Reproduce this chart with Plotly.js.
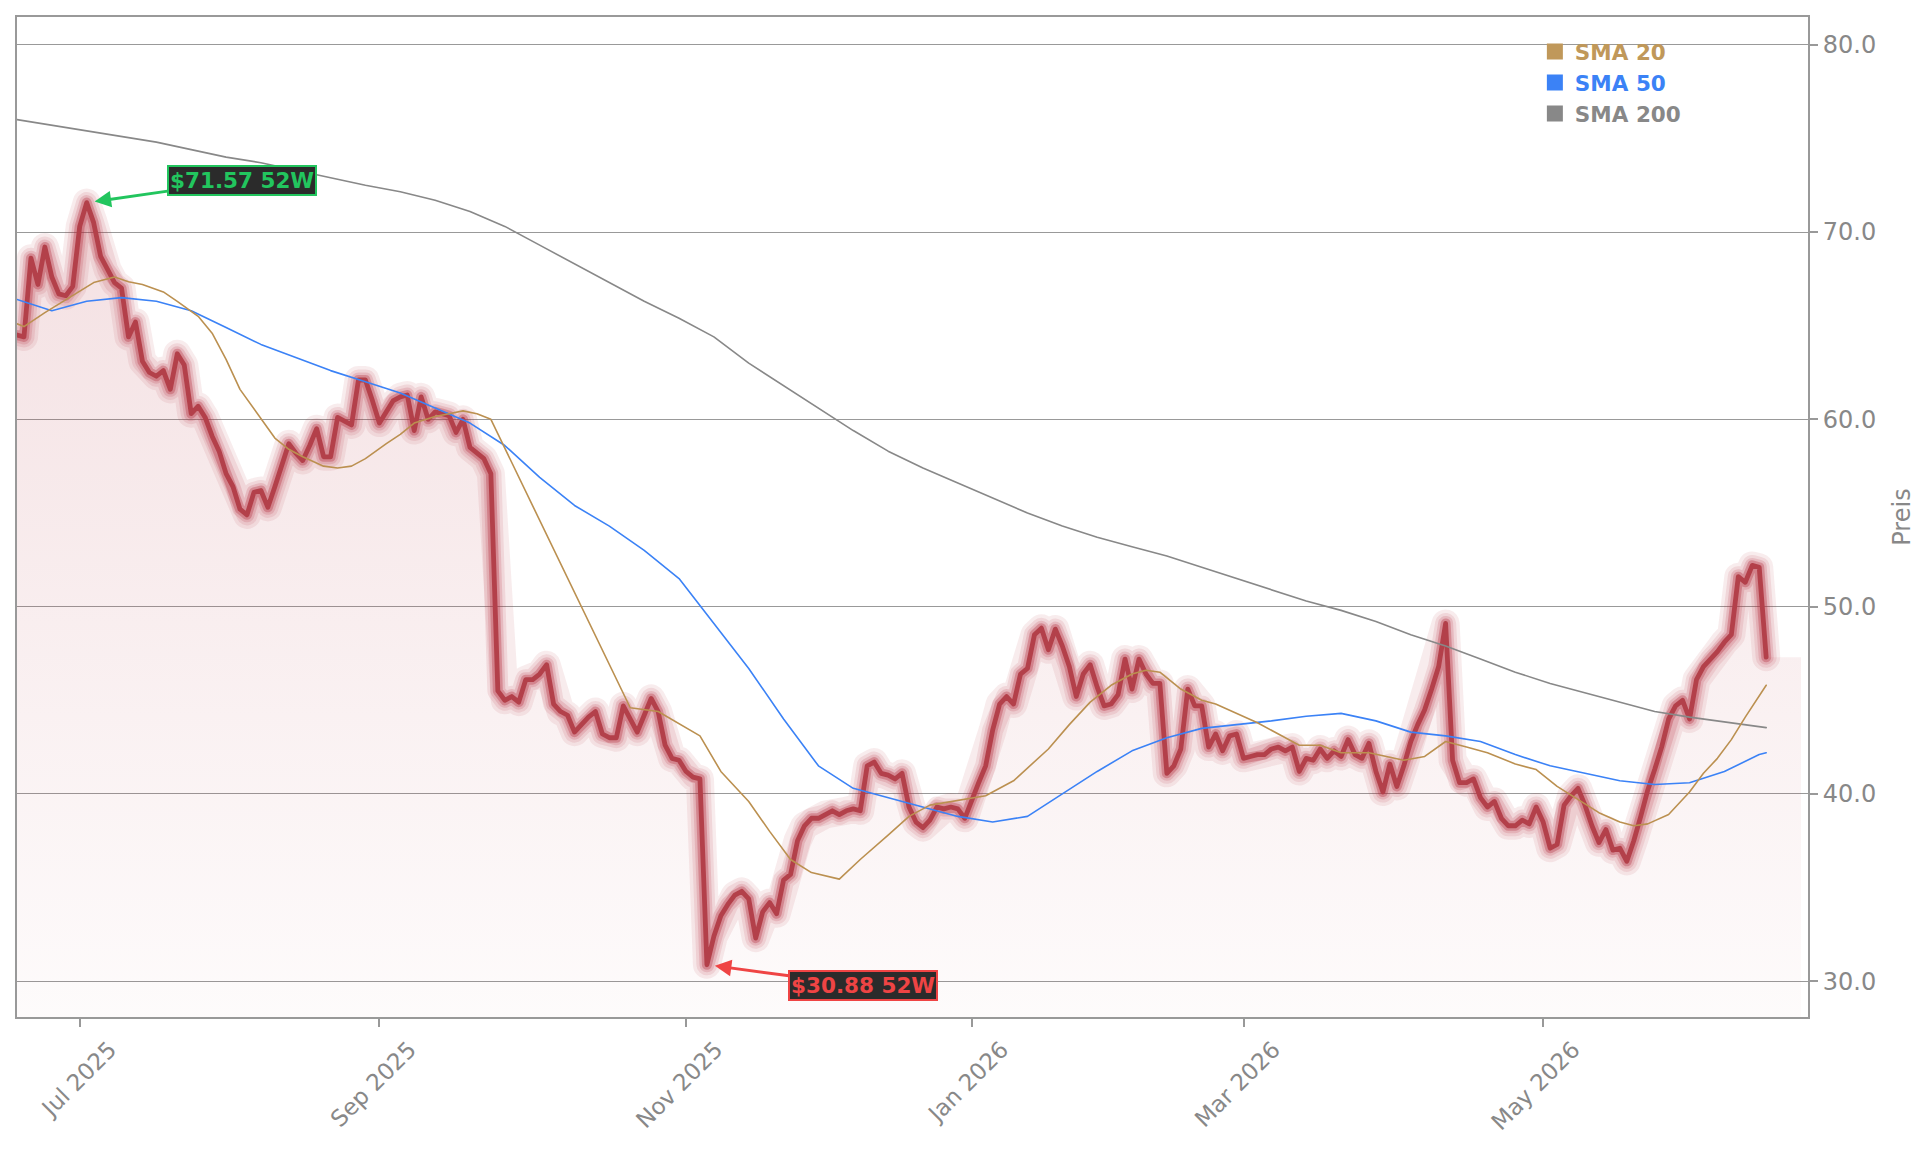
<!DOCTYPE html>
<html>
<head>
<meta charset="utf-8">
<script src="https://cdn.plot.ly/plotly-3.0.1.min.js"></script>
<style>
  html, body { margin:0; padding:0; background:#fff; }
  #chart { width:1929px; height:1153px; }
  .js-line { stroke-linejoin: round !important; stroke-linecap: round !important; }
</style>
</head>
<body>
<div id="chart"></div>
<script>
// ---------- DATA ----------
const startDate = '2025-06-17';
const holidays = ['2025-06-19','2025-07-04','2025-09-01','2025-11-27','2025-12-25',
                  '2026-01-01','2026-01-19','2026-02-16','2026-04-03','2026-05-25','2026-06-19'];

// daily close (one value per trading day)
const price = [
  64.5, 64.4, 68.6, 67.2, 69.2, 67.6, 66.7, 66.6, 67.1, 70.3,
  71.57, 70.5, 68.7, 68.0, 67.3, 67.0, 64.4, 65.2, 63.1, 62.5,
  62.3, 62.6, 61.6, 63.5, 62.9, 60.3, 60.7, 60.1, 59.1, 58.3,
  57.1, 56.4, 55.2, 54.9, 56.1, 56.2, 55.3, 56.4, 57.6, 58.7,
  58.2, 57.8, 58.6, 59.5, 58.0, 58.0, 60.1, 59.9, 59.7, 62.1,
  62.1, 61.0, 59.8, 60.4, 61.0, 61.2, 61.3, 59.4, 61.2, 60.0,
  60.4, 60.3, 60.2, 59.3, 60.0, 58.5, 58.2, 57.9, 57.1, 45.5,
  45.0, 45.2, 44.9, 46.1, 46.1, 46.4, 46.9, 44.8, 44.4, 44.2,
  43.3, 43.7, 44.1, 44.4, 43.2, 43.0, 43.0, 44.7, 44.0, 43.3,
  44.2, 45.1, 44.4, 42.6, 41.9, 41.8, 41.2, 40.9, 40.8, 30.88,
  32.4, 33.5, 34.1, 34.6, 34.8, 34.4, 32.3, 33.7, 34.2, 33.6,
  35.4, 35.7, 37.5, 38.3, 38.7, 38.7, 38.9, 39.1, 38.9, 39.1,
  39.2, 39.1, 41.5, 41.7, 41.1, 41.0, 40.8, 41.1, 39.3, 38.5,
  38.2, 38.6, 39.3, 39.2, 39.3, 39.2, 38.7, 39.7, 40.6, 41.5,
  43.4, 44.8, 45.2, 44.8, 46.4, 46.7, 48.5, 48.85, 47.7, 48.8,
  47.9, 46.8, 45.2, 46.4, 46.9, 45.7, 44.7, 44.8, 45.3, 47.2,
  45.6, 47.2, 46.4, 45.9, 45.9, 41.1, 41.5, 42.4, 45.6, 44.7,
  44.7, 42.5, 43.2, 42.3, 43.1, 43.2, 41.9, 42.0, 42.1, 42.1,
  42.4, 42.5, 42.3, 42.5, 41.2, 41.9, 41.8, 42.4, 41.9, 42.3,
  42.0, 42.9, 42.1, 41.9, 42.7, 41.2, 40.1, 41.6, 40.4, 41.5,
  42.8, 43.7, 44.5, 45.6, 46.8, 49.1, 41.8, 40.6, 40.6, 40.8,
  39.8, 39.3, 39.6, 38.7, 38.3, 38.3, 38.6, 38.4, 39.3, 38.5,
  37.1, 37.3, 39.4, 39.9, 40.3, 39.4, 38.3, 37.4, 38.1, 37.0,
  37.1, 36.4, 37.5, 38.8, 40.2, 41.3, 42.5, 44.0, 44.7, 45.0,
  44.0, 46.1, 46.8, 47.2, 47.6, 48.1, 48.5, 51.6, 51.3, 52.2,
  52.1, 47.3
];

// SMA 20 (trading-day index -> value)
const sma20Idx = [0,1,4,8,11,14,16,18,21,23,26,28,30,32,35,37,39,41,44,46,48,50,53,55,57,60,62,64,66,68,
  88,92,98,101,105,108,111,114,118,121,125,128,131,136,139,143,148,151,154,157,160,162,164,167,170,172,
  175,178,181,184,187,190,194,199,202,205,208,211,215,218,221,224,227,230,232,234,237,240,242,244,246,248,251];
const sma20 = [65.1,64.95,65.7,66.6,67.3,67.6,67.35,67.2,66.8,66.3,65.5,64.6,63.2,61.6,60.0,59.0,58.4,58.0,57.5,57.4,
  57.5,57.9,58.7,59.2,59.8,60.15,60.3,60.45,60.3,60.0,44.6,44.4,43.1,41.2,39.6,38.0,36.5,35.8,35.45,36.5,
  37.8,38.8,39.4,39.7,39.9,40.7,42.4,43.7,44.9,45.8,46.4,46.6,46.5,45.6,45.0,44.8,44.3,43.8,43.2,42.6,
  42.6,42.2,42.2,41.8,42.0,42.8,42.5,42.2,41.6,41.3,40.4,39.7,39.0,38.5,38.3,38.4,38.9,40.1,41.1,41.9,
  42.9,44.1,45.8];

// SMA 50 and SMA 200, read every 5 trading days (plus the last day)
const smaStepIdx = [0,5,10,15,20,25,30,35,40,45,50,55,60,65,70,75,80,85,90,95,100,105,110,115,120,125,
  130,135,140,145,150,155,160,165,170,175,180,185,190,195,200,205,210,215,220,225,230,235,240,245,250,251];
const sma50 = [66.4,65.8,66.3,66.5,66.3,65.8,64.9,64.0,63.3,62.6,62.0,61.4,60.6,59.8,58.6,56.9,55.4,54.3,53.0,51.5,
  49.1,46.7,44.0,41.5,40.3,39.8,39.3,38.8,38.5,38.8,40.0,41.2,42.3,43.0,43.5,43.7,43.9,44.15,44.3,43.9,
  43.3,43.1,42.8,42.1,41.5,41.1,40.7,40.5,40.6,41.2,42.1,42.2];
const sma200 = [76.0,75.7,75.4,75.1,74.8,74.4,74.0,73.7,73.3,72.9,72.5,72.15,71.7,71.1,70.3,69.3,68.3,67.3,66.3,65.4,
  64.4,63.0,61.8,60.6,59.4,58.3,57.4,56.6,55.8,55.0,54.3,53.7,53.2,52.7,52.1,51.5,50.9,50.3,49.8,49.2,
  48.5,47.9,47.2,46.5,45.9,45.4,44.9,44.4,44.1,43.85,43.6,43.54];

const tickVals = ['2025-07-01','2025-09-02','2025-11-03','2026-01-02','2026-03-02','2026-05-01'];
const tickText = ['Jul 2025','Sep 2025','Nov 2025','Jan 2026','Mar 2026','May 2026'];
const legendNames = ['SMA 20','SMA 50','SMA 200'];
const legendColors = ['#c0985a','#3b82f6','#888888'];

// ---------- trading-day calendar ----------
function tradingDays(start, count) {
  const out = [];
  const hol = new Set(holidays);
  const d = new Date(start + 'T00:00:00Z');
  while (out.length < count) {
    const wd = d.getUTCDay();
    const s = d.toISOString().slice(0, 10);
    if (wd !== 0 && wd !== 6 && !hol.has(s)) out.push(s);
    d.setUTCDate(d.getUTCDate() + 1);
  }
  return out;
}
const days = tradingDays(startDate, 260);
const priceDates = days.slice(0, price.length);
const last = price[price.length - 1];

// ---------- traces ----------
const traces = [];
// gradient area
traces.push({
  x: priceDates.concat(['2026-06-25']), y: price.concat([last]),
  mode: 'lines', line: {width: 0, color: 'rgba(0,0,0,0)'},
  fill: 'tozeroy',
  fillgradient: {type: 'vertical', start: 28, stop: 72,
    colorscale: [[0, 'rgba(185,60,72,0.02)'], [1, 'rgba(185,60,72,0.16)']]},
  hoverinfo: 'skip', showlegend: false
});
// glow
[[28, 0.09], [21, 0.11], [15, 0.16], [10, 0.32]].forEach(g => {
  traces.push({x: priceDates, y: price, mode: 'lines',
    line: {width: g[0], color: 'rgba(178,40,55,' + g[1] + ')'},
    hoverinfo: 'skip', showlegend: false});
});
traces.push({x: priceDates, y: price, mode: 'lines', name: 'Preis',
  line: {width: 4.8, color: '#b3404a'}, showlegend: false});

traces.push({x: smaStepIdx.map(i => days[i]), y: sma200, mode: 'lines', name: 'SMA 200',
  line: {width: 1.6, color: '#888888'}, showlegend: false});
traces.push({x: smaStepIdx.map(i => days[i]), y: sma50, mode: 'lines', name: 'SMA 50',
  line: {width: 1.6, color: '#3b82f6'}, showlegend: false});
traces.push({x: sma20Idx.map(i => days[i]), y: sma20, mode: 'lines', name: 'SMA 20',
  line: {width: 1.6, color: '#bb9050'}, showlegend: false});

// legend entries
legendNames.forEach((n, k) => {
  traces.push({x: [null], y: [null], mode: 'markers', name: '<span style="color:' + legendColors[k] + '">' + n + '</span>',
    marker: {symbol: 'square', size: 16, color: legendColors[k]}, showlegend: true, hoverinfo: 'skip'});
});

// ---------- 52W annotations ----------
let hi = 0, lo = 0;
price.forEach((v, i) => { if (v > price[hi]) hi = i; if (v < price[lo]) lo = i; });

const annotations = [
  {x: priceDates[hi], y: price[hi], xref: 'x', yref: 'y',
   text: '$' + price[hi].toFixed(2) + ' 52W', showarrow: true, ax: 155, ay: -22,
   arrowcolor: '#22c55e', arrowwidth: 3, arrowhead: 2, arrowsize: 1.1, standoff: 8,
   bgcolor: '#2b2b2b', bordercolor: '#22c55e', borderwidth: 2, borderpad: 1,
   font: {family: 'DejaVu Sans', size: 21.5, color: '#22c55e', weight: 'bold'}},
  {x: priceDates[lo], y: price[lo], xref: 'x', yref: 'y',
   text: '$' + price[lo].toFixed(2) + ' 52W', showarrow: true, ax: 156, ay: 21,
   arrowcolor: '#ef4444', arrowwidth: 3, arrowhead: 2, arrowsize: 1.1, standoff: 8,
   bgcolor: '#2b2b2b', bordercolor: '#ef4444', borderwidth: 2, borderpad: 1,
   font: {family: 'DejaVu Sans', size: 21.5, color: '#ef4444', weight: 'bold'}}
];

const layout = {
  width: 1929, height: 1153,
  margin: {l: 17, r: 121, t: 17, b: 136, pad: 0},
  paper_bgcolor: '#ffffff', plot_bgcolor: '#ffffff',
  font: {family: 'DejaVu Sans', color: '#888888'},
  showlegend: true,
  legend: {x: 0.8475, y: 0.986, xanchor: 'left', yanchor: 'top', bgcolor: 'rgba(0,0,0,0)',
    font: {family: 'DejaVu Sans', size: 21.5, weight: 'bold', color: '#888888'}, tracegroupgap: 0},
  xaxis: {
    type: 'date', range: ['2025-06-17', '2026-06-26'],
    rangebreaks: [{bounds: ['sat', 'mon']}, {values: holidays}],
    tickmode: 'array', tickvals: tickVals, ticktext: tickText, tickangle: -45,
    ticks: 'outside', ticklen: 8, tickwidth: 1.5, tickcolor: '#999999',
    showline: true, linecolor: '#999999', linewidth: 2, mirror: true,
    showgrid: false, zeroline: false,
    tickfont: {family: 'DejaVu Sans', size: 23, color: '#888888'},
    ticklabelshift: 30
  },
  yaxis: {
    side: 'right', range: [28.09, 81.48],
    tickmode: 'array', tickvals: [30, 40, 50, 60, 70, 80], tickformat: '.1f',
    ticks: 'outside', ticklen: 8, tickwidth: 1.5, tickcolor: '#999999',
    showline: true, linecolor: '#999999', linewidth: 2, mirror: true,
    showgrid: true, gridcolor: '#999999', gridwidth: 1.3, zeroline: false,
    tickfont: {family: 'DejaVu Sans', size: 24, color: '#888888'},
    title: {text: 'Preis', font: {family: 'DejaVu Sans', size: 24, color: '#888888'}, standoff: 18}
  },
  annotations: annotations
};

Plotly.newPlot('chart', traces, layout, {displayModeBar: false, responsive: false});
</script>
</body>
</html>
